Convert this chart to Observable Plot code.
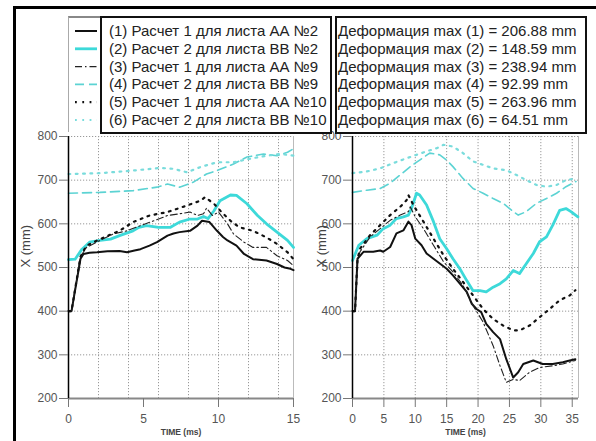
<!DOCTYPE html>
<html><head><meta charset="utf-8">
<script src="https://cdn.jsdelivr.net/npm/d3@7"></script>
<script src="https://cdn.jsdelivr.net/npm/@observablehq/plot@0.6"></script>
<style>
body{margin:0;background:#fff}
#wrap{position:relative;width:596px;height:441px;overflow:hidden;background:#fff;font-family:"Liberation Sans",Arial,sans-serif}
#frame{position:absolute;left:13px;top:6px;width:700px;height:600px;border-left:3px solid #000;border-top:3px solid #000}
.chart{position:absolute;top:126px}
.box{position:absolute;background:#fff;box-sizing:border-box}
.row{position:absolute;font-size:15px;line-height:18px;color:#222;white-space:nowrap}
</style></head><body>
<div id="wrap"><div id="frame"></div></div>
<script>
// ---- data ----
const seriesLabels = ["(1) Расчет 1 для листа АА №2","(2) Расчет 2 для листа ВВ №2","(3) Расчет 1 для листа АА №9","(4) Расчет 2 для листа ВВ №9","(5) Расчет 1 для листа АА №10","(6) Расчет 2 для листа ВВ №10"];
const maxDeform = ["206.88","148.59","238.94","92.99","263.96","64.51"];
const yTicks = [200,300,400,500,600,700,800];
const leftXTicks = [0,5,10,15];
const rightXTicks = [0,5,10,15,20,25,30,35];

// left chart (TIME 0–15 ms)
const L1 = [[0,400],[0.2,400],[0.8,520],[1.0,531],[1.4,534],[1.9,535],[2.6,537],[3.4,538],[3.9,535],[4.4,539],[4.8,542],[5.4,550],[5.9,558],[6.6,573],[7.0,578],[7.4,581],[8.1,584],[8.6,596],[8.9,607],[9.4,604],[9.9,584],[10.3,570],[10.6,562],[11.2,550],[11.7,531],[12.3,519],[12.7,518],[13.2,516],[13.9,508],[14.4,500],[14.8,497],[15,494]];
const L2 = [[0,518],[0.44,519],[0.9,542],[1.4,558],[2.1,562],[2.8,565],[3.4,573],[4.3,584],[4.7,592],[5.2,596],[6.0,592],[6.8,592],[7.4,604],[8.1,611],[8.6,611],[9.0,617],[9.3,612],[9.7,630],[10.1,653],[10.8,666],[11.2,665],[11.9,646],[12.6,619],[13.2,600],[13.9,581],[14.6,562],[15,546]];
const L3 = [[0,400],[0.2,400],[0.8,525],[1.2,546],[2.1,562],[3.0,577],[3.9,584],[4.8,596],[5.7,607],[6.6,619],[7.4,623],[8.1,627],[8.6,619],[9.0,623],[9.2,636],[9.6,619],[10.0,627],[10.6,600],[11.0,577],[11.7,558],[12.3,546],[13.2,546],[13.9,527],[14.6,516],[15,504]];
const L4 = [[0,670],[2.1,672],[4.3,676],[5.9,684],[6.6,691],[7.4,684],[8.3,695],[9.2,714],[9.9,722],[11.0,737],[11.9,753],[13.0,760],[13.9,756],[14.6,764],[15,772]];
const L5 = [[0,400],[0.2,400],[0.8,525],[1.2,550],[2.1,565],[3.4,584],[4.3,604],[5.4,619],[6.6,627],[7.9,642],[8.8,653],[9.1,661],[9.7,646],[10.2,627],[10.8,607],[11.4,592],[12.3,584],[13.2,569],[13.9,554],[14.6,535],[15,519]];
const L6 = [[0,714],[2.1,716],[4.3,722],[6.1,728],[7.0,726],[7.9,718],[8.8,730],[9.9,741],[11.0,741],[12.1,749],[13.2,756],[14.1,760],[15,756]];

// right chart (TIME 0–36 ms)
const R1 = [[0,400],[0.4,400],[0.8,520],[1.75,536],[3.3,536],[4.4,539],[4.9,536],[6.0,547],[7.0,578],[8.1,585],[8.9,605],[9.4,597],[10.0,566],[11.0,551],[11.8,532],[12.9,520],[13.9,509],[15.0,497],[16.0,482],[17.1,463],[18.2,444],[19.0,417],[19.75,405],[20.5,398],[21.3,371],[22.4,352],[23.5,336],[24.5,290],[25.6,248],[26.4,260],[27.2,279],[28.8,287],[30.3,279],[31.9,279],[33.5,283],[34.6,287],[35.5,290]];
const R2 = [[0,516],[1.0,551],[2.3,566],[3.9,574],[4.9,589],[6.0,597],[7.0,612],[8.1,616],[8.9,620],[9.4,635],[10.2,670],[10.7,666],[11.8,643],[12.9,605],[13.9,566],[15.0,543],[16.0,520],[17.1,497],[18.2,470],[19.2,447],[20.3,447],[21.3,444],[22.4,455],[23.5,463],[24.5,474],[25.6,493],[26.6,486],[27.7,509],[28.8,532],[29.8,559],[30.9,570],[31.9,597],[33.0,631],[34.0,635],[34.8,628],[35.9,616]];
const R3 = [[0,400],[0.4,400],[0.8,520],[1.2,536],[2.8,570],[4.4,589],[6.0,608],[7.6,620],[8.9,628],[9.2,639],[10.0,616],[11.3,589],[12.9,551],[14.5,513],[16.0,490],[17.6,459],[19.2,413],[20.8,375],[22.4,321],[23.5,275],[24.5,237],[25.6,244],[26.6,241],[28.2,260],[29.8,271],[31.9,275],[33.5,279],[35.5,287]];
const R4 = [[0,672],[2.3,677],[4.4,681],[6.0,693],[7.6,712],[9.2,731],[10.7,746],[12.3,762],[13.9,758],[15.0,746],[16.0,731],[17.6,704],[19.2,681],[20.8,670],[22.4,658],[24.0,647],[25.6,628],[26.4,620],[27.7,628],[29.3,647],[30.9,658],[32.5,670],[34.0,685],[35.6,697]];
const R5 = [[0,400],[0.4,400],[0.8,520],[1.2,543],[2.8,574],[4.4,597],[6.0,620],[7.6,639],[8.6,654],[8.9,666],[9.7,643],[11.3,605],[12.9,566],[14.5,528],[16.0,497],[17.6,467],[19.2,436],[20.8,405],[22.4,382],[24.0,367],[25.6,356],[26.6,356],[28.2,367],[29.8,386],[31.4,405],[33.0,425],[34.6,436],[35.5,448]];
const R6 = [[0,716],[2.3,720],[4.4,727],[6.5,739],[8.6,750],[10.2,758],[11.8,766],[13.4,773],[14.5,781],[16.0,777],[17.6,762],[19.2,743],[20.8,735],[22.4,727],[24.5,723],[26.1,712],[27.7,700],[29.3,689],[30.9,685],[32.5,689],[34.0,700],[35.6,704]];

// ---- styles ----
const styles = [
  {stroke:"#111", strokeWidth:2},
  {stroke:"#3dd9d9", strokeWidth:2.8},
  {stroke:"#222", strokeWidth:1.1, strokeDasharray:"7,3,1.5,3"},
  {stroke:"#5cd3d3", strokeWidth:1.6, strokeDasharray:"9,5"},
  {stroke:"#111", strokeWidth:2.2, strokeDasharray:"1.8,5.5"},
  {stroke:"#7adcdc", strokeWidth:2.2, strokeDasharray:"1.8,5.5"}
];

function chart(series, xmax, xTicks, xGrid, ml, mr, w) {
  const lines = series.map((s, i) => Plot.line(s, {x: d => d[0], y: d => d[1], ...styles[i], strokeLinejoin:"round"}));
  return Plot.plot({
    width: w, height: 315, marginLeft: ml, marginRight: mr, marginTop: 10, marginBottom: 43,
    style: {color:"#555", fontFamily:"'Liberation Sans', Arial, sans-serif", background:"transparent", overflow:"visible"},
    x: {domain:[0, xmax]},
    y: {domain:[200, 800]},
    marks: [
      Plot.ruleY(yTicks.slice(1), {stroke:"#999", strokeDasharray:"1.2,1.8"}),
      Plot.ruleX(xGrid, {stroke:"#999", strokeDasharray:"1.2,1.8"}),
      Plot.ruleX([xmax], {stroke:"#bbb"}),
      ...lines,
      Plot.ruleY([200], {stroke:"#888", strokeWidth:2}),
      Plot.ruleX([0], {stroke:"#000", strokeWidth:1.5}),
      Plot.axisY({ticks: yTicks, tickSize: 9, tickPadding: 2, fontSize: 12, label: null, stroke:"#777"}),
      Plot.axisX({ticks: xTicks, tickSize: 9, tickPadding: 7, fontSize: 12, label: null, stroke:"#777"}),
      Plot.text(["X (mm)"], {frameAnchor:"left", dx: -(ml - 25), rotate: -90, fontSize: 13, fill:"#444"}),
      Plot.text(["TIME (ms)"], {frameAnchor:"bottom", dy: 36, fontSize: 8.5, fontWeight:"bold", fill:"#444"})
    ]
  });
}

const wrap = document.getElementById("wrap");
const left = chart([L1,L2,L3,L4,L5,L6], 15, leftXTicks, [2,4,6,8,10,12,14], 68, 7, 300);
left.classList.add("chart"); left.style.left = "0px";
wrap.appendChild(left);
const right = chart([R1,R2,R3,R4,R5,R6], 36, rightXTicks, [5,10,15,20,25,30,35], 56, 18, 300);
right.classList.add("chart"); right.style.left = "296px";
wrap.appendChild(right);

// ---- legend ----
function box(l, t, w, h, css) {
  const d = document.createElement("div");
  d.className = "box";
  Object.assign(d.style, {left: l+"px", top: t+"px", width: w+"px", height: h+"px"}, css);
  wrap.appendChild(d);
  return d;
}
box(68, 16, 32, 116, {borderLeft:"1px solid #aaa", borderTop:"2px solid #888"});
box(100, 16, 232, 118, {border:"2px solid #111"});
box(335, 16, 252, 118, {border:"2px solid #111"});
const rowY = i => 31 + i * 17.8;
const ns = "http://www.w3.org/2000/svg";
const sw = document.createElementNS(ns, "svg");
sw.setAttribute("width", 32); sw.setAttribute("height", 116);
Object.assign(sw.style, {position:"absolute", left:"68px", top:"16px"});
styles.forEach((s, i) => {
  const ln = document.createElementNS(ns, "line");
  ln.setAttribute("x1", 7); ln.setAttribute("x2", 29);
  ln.setAttribute("y1", rowY(i) - 16); ln.setAttribute("y2", rowY(i) - 16);
  ln.setAttribute("stroke", s.stroke);
  ln.setAttribute("stroke-width", s.strokeWidth);
  if (s.strokeDasharray) ln.setAttribute("stroke-dasharray", s.strokeDasharray);
  sw.appendChild(ln);
});
wrap.appendChild(sw);
seriesLabels.forEach((t, i) => {
  const r = document.createElement("div");
  r.className = "row"; r.textContent = t;
  r.style.left = "109px"; r.style.top = (rowY(i) - 9) + "px";
  wrap.appendChild(r);
  const r2 = document.createElement("div");
  r2.className = "row"; r2.textContent = `Деформация max (${i+1}) = ${maxDeform[i]} mm`;
  r2.style.left = "338px"; r2.style.top = (rowY(i) - 9) + "px";
  wrap.appendChild(r2);
});
</script></body></html>
